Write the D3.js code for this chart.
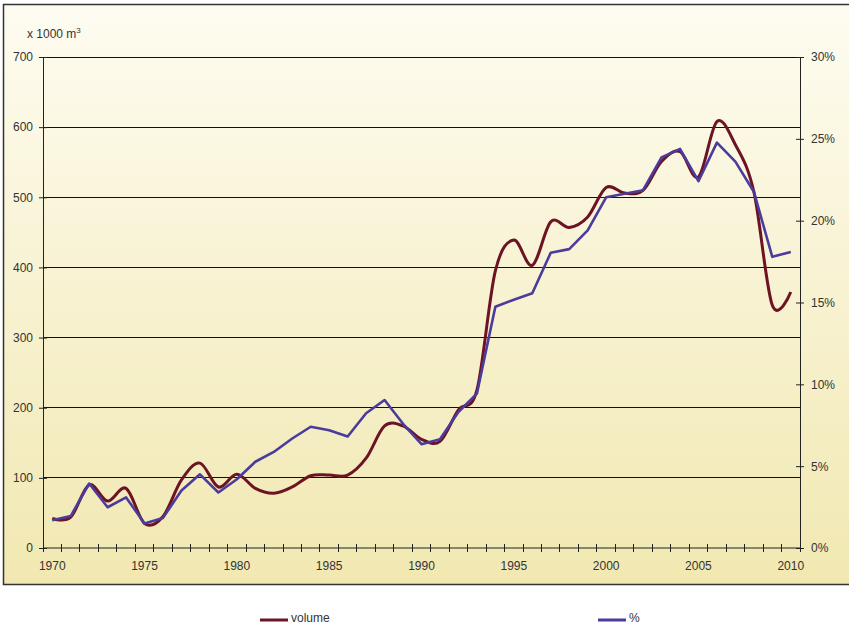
<!DOCTYPE html>
<html>
<head>
<meta charset="utf-8">
<script src="https://cdn.jsdelivr.net/npm/d3@7"></script>
<style>
  body { margin: 0; background: #fff; }
  text { font-family: "Liberation Sans Narrow", "Arial Narrow", "Liberation Sans", Arial, sans-serif; fill: #333; }
</style>
</head>
<body>
<div id="chart"></div>
<script>
const years = d3.range(1970, 2011);
const yearLabels = [1970, 1975, 1980, 1985, 1990, 1995, 2000, 2005, 2010];

// volume, x 1000 m3 (left axis)
const volume = [
  42, 44, 90, 67, 85, 35, 45, 97, 121, 87,
  105, 85, 78, 87, 103, 104, 104, 128, 174, 174,
  155, 152, 197, 225, 395, 439, 403, 465, 457, 472,
  514, 506, 510, 551, 565, 529, 608, 575, 508, 346,
  365
];
// share in % (right axis)
const percent = [
  1.7, 1.95, 3.94, 2.49, 3.09, 1.5, 1.84, 3.51, 4.5, 3.39,
  4.2, 5.27, 5.87, 6.69, 7.41, 7.2, 6.81, 8.23, 9.04, 7.59,
  6.34, 6.64, 8.31, 9.43, 14.74, 15.17, 15.56, 18.04, 18.26, 19.41,
  21.43, 21.64, 21.86, 23.87, 24.39, 22.41, 24.77, 23.61, 21.77, 17.79,
  18.09
];
const leftTicks = [0, 100, 200, 300, 400, 500, 600, 700];
const rightTicks = [0, 5, 10, 15, 20, 25, 30];

const W = 849, H = 627;
const plot = { left: 43, right: 800, top: 57, bottom: 548 };
const fontSize = "12px";

const svg = d3.select("#chart").append("svg")
  .attr("width", W).attr("height", H);

// background gradient
const grad = svg.append("defs").append("linearGradient")
  .attr("id", "bg").attr("x1", 0).attr("y1", 0).attr("x2", 0).attr("y2", 1);
grad.append("stop").attr("offset", "0%").attr("stop-color", "#fefcf1");
grad.append("stop").attr("offset", "100%").attr("stop-color", "#f1e8b1");

svg.append("rect")
  .attr("x", 3.5).attr("y", 4.5)
  .attr("width", W + 10).attr("height", 580)
  .attr("fill", "url(#bg)")
  .attr("stroke", "#333").attr("stroke-width", 1.5);

const x = d3.scaleBand().domain(years).range([plot.left, plot.right]).padding(0);
const xc = d => x(d) + x.bandwidth() / 2;
const yL = d3.scaleLinear().domain([0, 700]).range([plot.bottom, plot.top]);
const yR = d3.scaleLinear().domain([0, 30]).range([plot.bottom, plot.top]);

// gridlines
svg.append("g").selectAll("line")
  .data(leftTicks.slice(1))
  .join("line")
  .attr("x1", plot.left).attr("x2", plot.right)
  .attr("y1", d => yL(d)).attr("y2", d => yL(d))
  .attr("stroke", "#111").attr("stroke-width", 1).attr("shape-rendering", "crispEdges");

// left axis
const axL = svg.append("g")
  .attr("transform", `translate(${plot.left},0)`)
  .call(d3.axisLeft(yL).tickValues(leftTicks).tickSize(4).tickPadding(6).tickSizeOuter(0));
axL.selectAll(".tick line").attr("x1", 4).attr("stroke", "#222");
axL.select(".domain").attr("stroke", "#222");
axL.selectAll("text").style("font-size", fontSize).attr("fill", "#333");

// right axis
const axR = svg.append("g")
  .attr("transform", `translate(${plot.right},0)`)
  .call(d3.axisRight(yR).tickValues(rightTicks).tickFormat(d => d + "%").tickSize(4).tickPadding(7).tickSizeOuter(0));
axR.selectAll(".tick line").attr("x1", -4).attr("stroke", "#222");
axR.select(".domain").attr("stroke", "#222");
axR.selectAll("text").style("font-size", fontSize).attr("fill", "#333");

// bottom axis: ticks between categories, labels every 5 years
const axB = svg.append("g").attr("transform", `translate(0,${plot.bottom})`);
axB.append("line")
  .attr("x1", plot.left).attr("x2", plot.right)
  .attr("stroke", "#222");
axB.selectAll("line.tk")
  .data(years.concat([null]))
  .join("line").attr("class", "tk")
  .attr("x1", d => d === null ? plot.right : x(d))
  .attr("x2", d => d === null ? plot.right : x(d))
  .attr("y1", -4).attr("y2", 4)
  .attr("stroke", "#222").attr("shape-rendering", "crispEdges");
axB.selectAll("text")
  .data(yearLabels)
  .join("text")
  .attr("x", d => xc(d)).attr("y", 22)
  .attr("text-anchor", "middle")
  .style("font-size", fontSize)
  .text(d => d);

// unit label
const unit = svg.append("text").attr("x", 27).attr("y", 38).style("font-size", fontSize);
unit.append("tspan").text("x 1000 m");
unit.append("tspan").attr("dy", -5).style("font-size", "8px").text("3");

// lines
const lineVol = d3.line()
  .x((d, i) => xc(years[i])).y(d => yL(d))
  .curve(d3.curveCardinal.tension(0));
const linePct = d3.line()
  .x((d, i) => xc(years[i])).y(d => yR(d));

svg.append("path").datum(volume)
  .attr("d", lineVol)
  .attr("fill", "none").attr("stroke", "#6c1423").attr("stroke-width", 3)
  .attr("stroke-linejoin", "round");
svg.append("path").datum(percent)
  .attr("d", linePct)
  .attr("fill", "none").attr("stroke", "#4a3b9c").attr("stroke-width", 2.6)
  .attr("stroke-linejoin", "round");

// legend
const legend = [
  { label: "volume", color: "#6c1423", x: 260 },
  { label: "%", color: "#4a3b9c", x: 598 }
];
const lg = svg.append("g").selectAll("g").data(legend).join("g")
  .attr("transform", d => `translate(${d.x},620)`);
lg.append("line").attr("x1", 0).attr("x2", 28)
  .attr("stroke", d => d.color).attr("stroke-width", 3);
lg.append("text").attr("x", 31).attr("y", 2).style("font-size", fontSize).text(d => d.label);
</script>
</body>
</html>
